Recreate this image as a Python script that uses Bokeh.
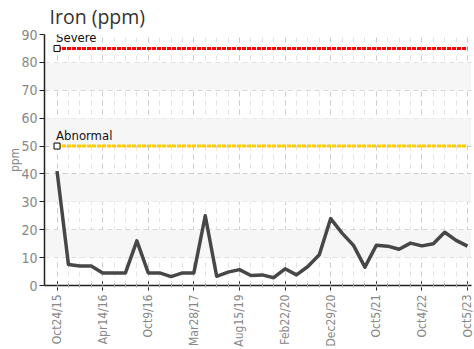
from bokeh.plotting import figure
from bokeh.embed import file_html
from bokeh.resources import INLINE
from bokeh.models import FixedTicker, Range1d, BoxAnnotation, Label
from bokeh.core.properties import value

# ---- data ----
iron = [41, 7.5, 7, 7, 4.5, 4.5, 4.5, 16, 4.5, 4.5, 3.2, 4.5, 4.5, 25, 3.3, 4.8,
        5.7, 3.6, 3.8, 2.8, 6, 3.8, 6.8, 11, 24, 18.8, 14.4, 6.6, 14.4, 14.1,
        13, 15.2, 14.2, 15, 19.1, 16.2, 14.1]
tick_labels = ["Oct24/15", "Apr14/16", "Oct9/16", "Mar28/17", "Aug15/19",
               "Feb22/20", "Dec29/20", "Oct5/21", "Oct4/22", "Oct5/23"]
limit_names = ["Severe", "Abnormal"]
limit_values = [85, 50]
limit_colors = ["#ff0000", "#ffcc00"]
title_text = "Iron (ppm)"

x = list(range(len(iron)))
major = x[::4]

FONT = "DejaVu Sans Condensed"

xr = Range1d(-1.1, 36.35)
yr = Range1d(0, 90)
p = figure(width=474, height=349, output_backend="svg", toolbar_location=None,
           x_range=xr, y_range=yr,
           min_border_left=44, min_border_right=3, min_border_top=0, min_border_bottom=4)
p.outline_line_color = None
p.background_fill_color = "white"

p.title.text = title_text
p.title.text_font = "Open Sans"
p.title.text_font_size = "19.5px"
p.title.text_font_style = "normal"
p.title.text_color = "#333333"
p.title.vertical_align = "top"
p.title.offset = 5
p.title.standoff = 5

# bands
for lo in [10, 30, 50, 70]:
    p.add_layout(BoxAnnotation(bottom=lo, top=lo + 10, fill_color="#f6f6f6",
                               fill_alpha=1, line_color=None, level="underlay"))

# axes
p.xaxis.ticker = FixedTicker(ticks=major, minor_ticks=x)
p.xaxis.major_label_overrides = {i: lab for i, lab in zip(major, tick_labels)}
p.xaxis.major_label_orientation = 1.5708
p.xaxis.major_label_text_font = FONT
p.xaxis.major_label_text_font_size = "12px"
p.xaxis.major_label_text_color = "#888888"
p.xaxis.axis_line_color = "#222222"
p.xaxis.axis_line_width = 1.5
p.xaxis.major_tick_line_color = "#222222"
p.xaxis.major_tick_in = 4
p.xaxis.major_tick_out = 5
p.xaxis.minor_tick_line_color = "#aaaaaa"
p.xaxis.minor_tick_in = 2
p.xaxis.minor_tick_out = 2
p.xaxis.major_label_standoff = 4

p.yaxis.ticker = FixedTicker(ticks=list(range(0, 91, 10)), minor_ticks=[])
p.yaxis.major_label_text_font = FONT
p.yaxis.major_label_text_font_size = "14px"
p.yaxis.major_label_text_color = "#888888"
p.yaxis.axis_line_color = "#222222"
p.yaxis.axis_line_width = 1.5
p.yaxis.major_tick_line_color = "#222222"
p.yaxis.major_tick_in = 0
p.yaxis.major_tick_out = 5
p.yaxis.major_label_standoff = 2
p.yaxis.axis_label = "ppm"
p.yaxis.axis_label_text_font = FONT
p.yaxis.axis_label_text_font_size = "12px"
p.yaxis.axis_label_text_font_style = "normal"
p.yaxis.axis_label_text_color = "#888888"
p.yaxis.axis_label_standoff = -4

# grids
p.xgrid.grid_line_color = "#cccccc"
p.xgrid.grid_line_dash = "5 4"
p.xgrid.minor_grid_line_color = "#e4e4e4"
p.xgrid.minor_grid_line_dash = "5 4"
p.ygrid.grid_line_color = "#cccccc"
p.ygrid.grid_line_dash = "5 4"

# limit lines
for name, v, c in zip(limit_names, limit_values, limit_colors):
    p.line([x[0], x[-1]], [v, v], line_color=c, line_width=3, line_dash="4 1")
    p.scatter([x[0]], [v], marker="square", size=6, fill_color="white",
              line_color="black", line_width=1)
    p.add_layout(Label(x=x[0], y=v, text=name, x_offset=-1, y_offset=3,
                       text_font=FONT, text_font_size="13px", text_color="#111111"))

# data line
p.line(x, iron, line_color="#474747", line_width=3.5, line_join="round")

open("out.html", "w").write(file_html(p, INLINE))
